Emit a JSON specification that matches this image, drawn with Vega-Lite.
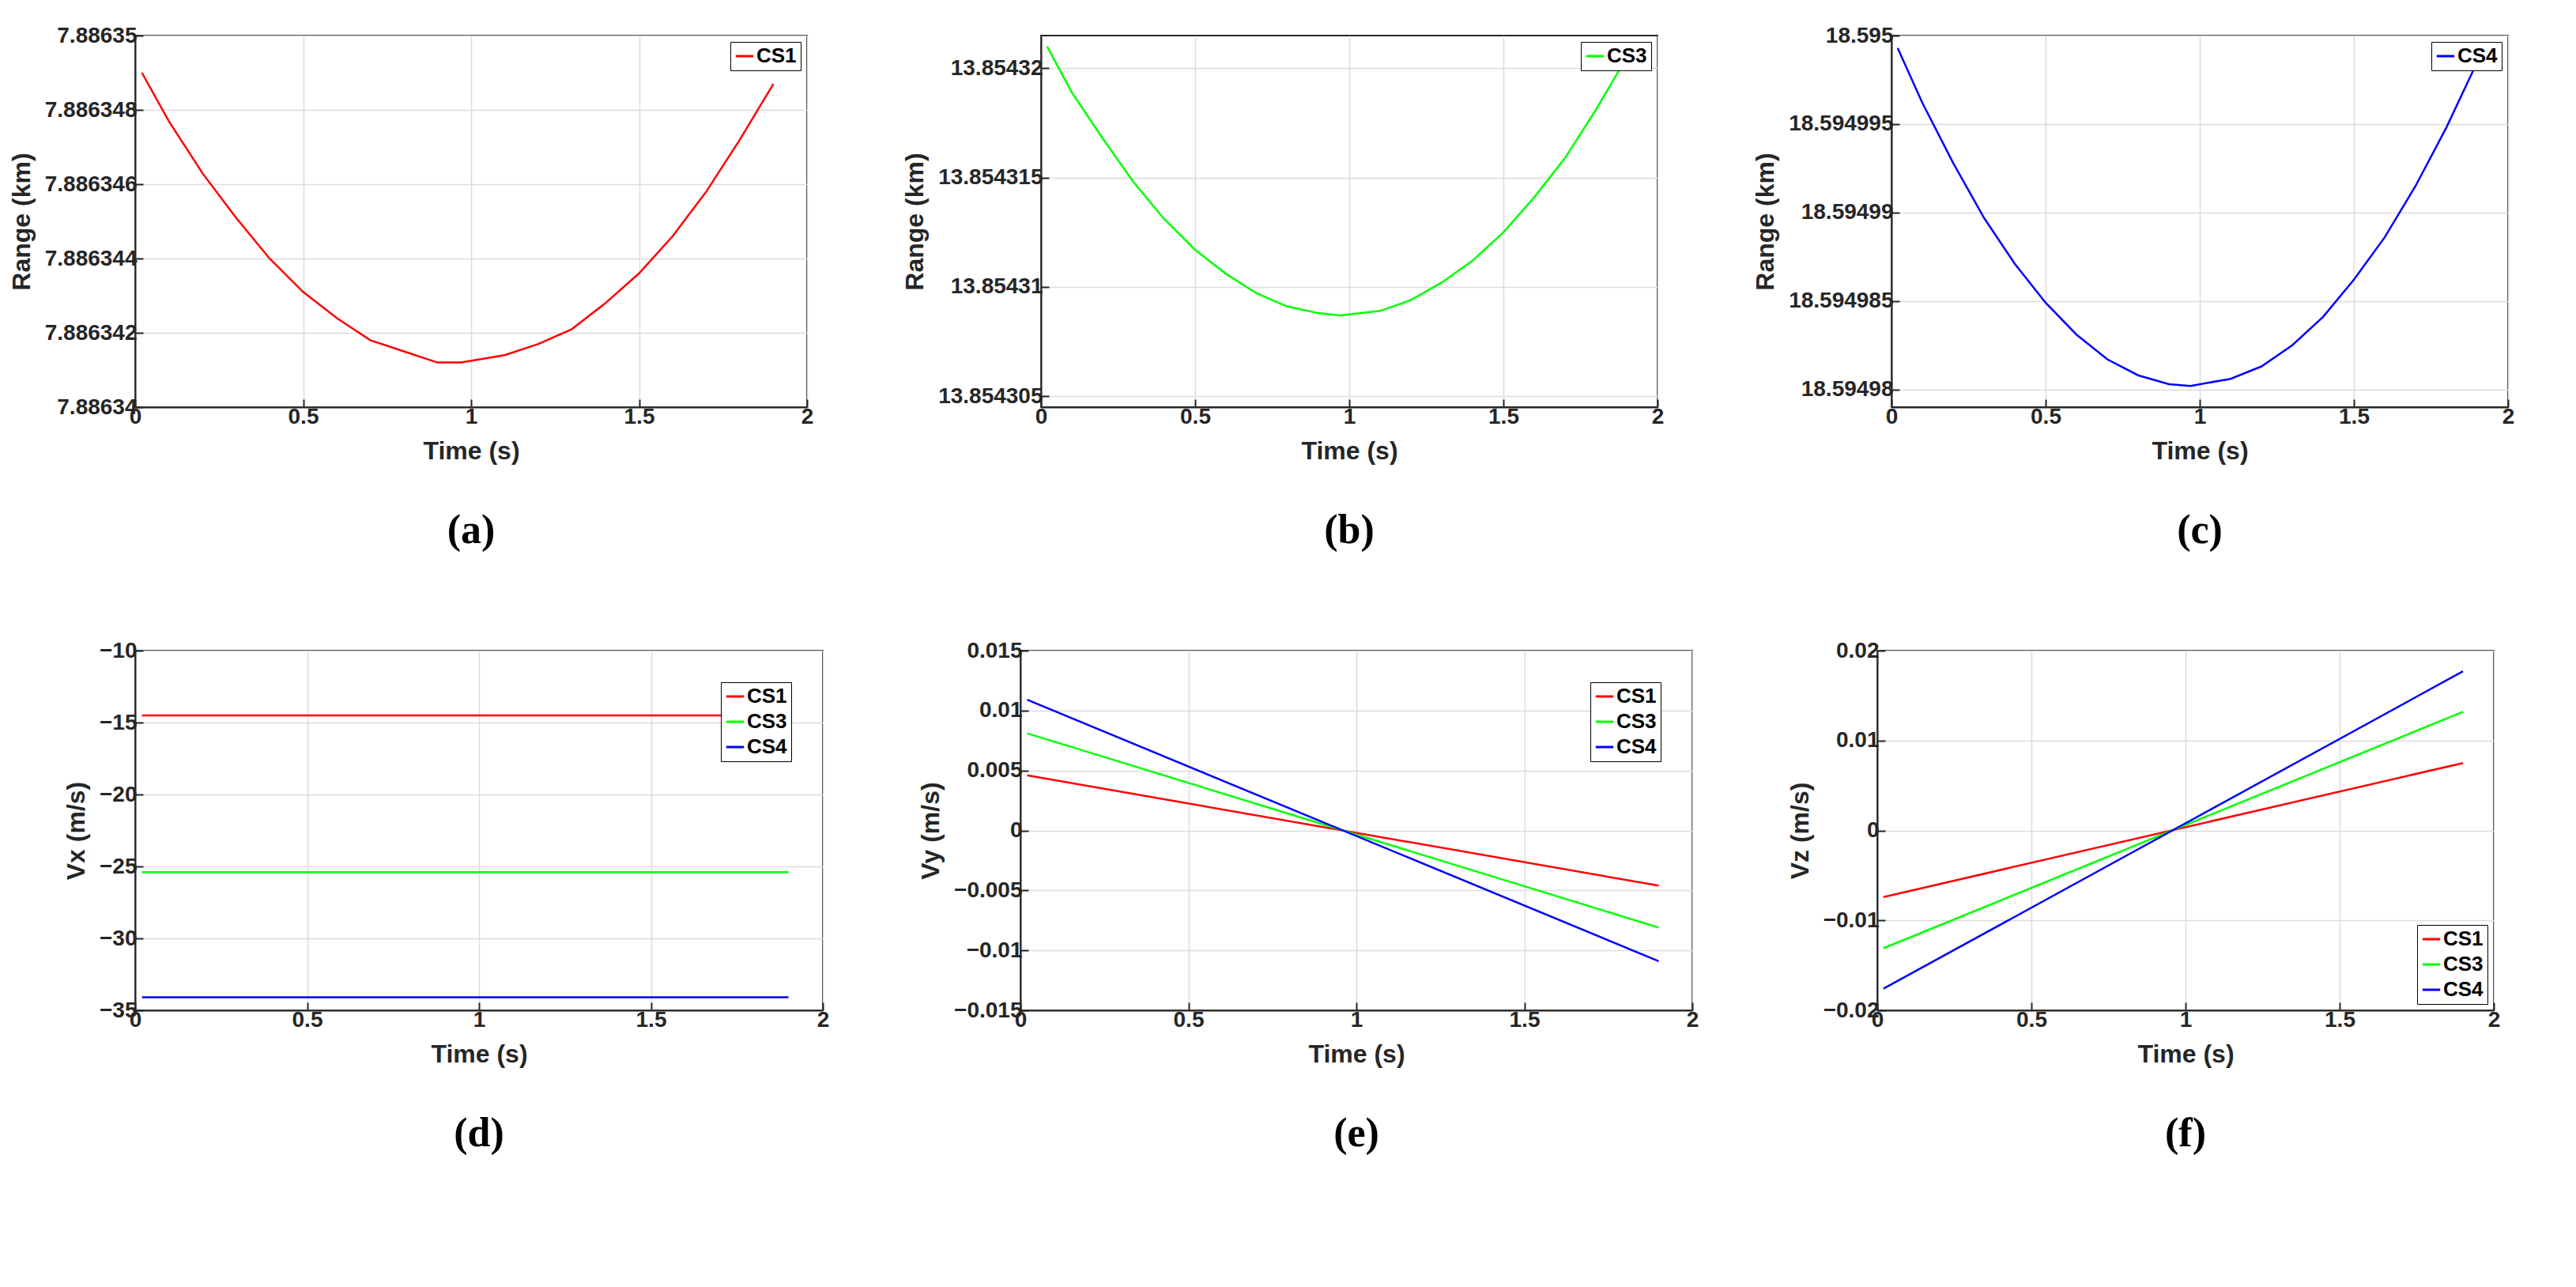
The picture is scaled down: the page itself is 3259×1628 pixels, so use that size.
{
  "$schema": "https://vega.github.io/schema/vega-lite/v6.json",
  "background": "white",
  "padding": {"left": 10, "top": 30, "right": 20, "bottom": 5},
  "datasets": {
    "rangeA": [
      {"t": 0.02, "r": 7.8863490, "s": "CS1"}, {"t": 0.1, "r": 7.8863477, "s": "CS1"}, {"t": 0.2, "r": 7.8863463, "s": "CS1"},
      {"t": 0.3, "r": 7.8863451, "s": "CS1"}, {"t": 0.4, "r": 7.8863440, "s": "CS1"}, {"t": 0.5, "r": 7.8863431, "s": "CS1"},
      {"t": 0.6, "r": 7.8863424, "s": "CS1"}, {"t": 0.7, "r": 7.8863418, "s": "CS1"}, {"t": 0.8, "r": 7.8863415, "s": "CS1"},
      {"t": 0.9, "r": 7.8863412, "s": "CS1"}, {"t": 0.97, "r": 7.8863412, "s": "CS1"}, {"t": 1.1, "r": 7.8863414, "s": "CS1"},
      {"t": 1.2, "r": 7.8863417, "s": "CS1"}, {"t": 1.3, "r": 7.8863421, "s": "CS1"}, {"t": 1.4, "r": 7.8863428, "s": "CS1"},
      {"t": 1.5, "r": 7.8863436, "s": "CS1"}, {"t": 1.6, "r": 7.8863446, "s": "CS1"}, {"t": 1.7, "r": 7.8863458, "s": "CS1"},
      {"t": 1.8, "r": 7.8863472, "s": "CS1"}, {"t": 1.9, "r": 7.8863487, "s": "CS1"}
    ],
    "rangeB": [
      {"t": 0.02, "r": 13.8543210, "s": "CS3"}, {"t": 0.1, "r": 13.8543189, "s": "CS3"}, {"t": 0.2, "r": 13.8543168, "s": "CS3"},
      {"t": 0.3, "r": 13.8543148, "s": "CS3"}, {"t": 0.4, "r": 13.8543131, "s": "CS3"}, {"t": 0.5, "r": 13.8543117, "s": "CS3"},
      {"t": 0.6, "r": 13.8543106, "s": "CS3"}, {"t": 0.7, "r": 13.8543097, "s": "CS3"}, {"t": 0.8, "r": 13.8543091, "s": "CS3"},
      {"t": 0.9, "r": 13.8543088, "s": "CS3"}, {"t": 0.97, "r": 13.8543087, "s": "CS3"}, {"t": 1.1, "r": 13.8543089, "s": "CS3"},
      {"t": 1.2, "r": 13.8543094, "s": "CS3"}, {"t": 1.3, "r": 13.8543102, "s": "CS3"}, {"t": 1.4, "r": 13.8543112, "s": "CS3"},
      {"t": 1.5, "r": 13.8543125, "s": "CS3"}, {"t": 1.6, "r": 13.8543141, "s": "CS3"}, {"t": 1.7, "r": 13.8543159, "s": "CS3"},
      {"t": 1.8, "r": 13.8543181, "s": "CS3"}, {"t": 1.9, "r": 13.8543205, "s": "CS3"}
    ],
    "rangeC": [
      {"t": 0.02, "r": 18.5949993, "s": "CS4"}, {"t": 0.1, "r": 18.5949962, "s": "CS4"}, {"t": 0.2, "r": 18.5949928, "s": "CS4"},
      {"t": 0.3, "r": 18.5949897, "s": "CS4"}, {"t": 0.4, "r": 18.5949871, "s": "CS4"}, {"t": 0.5, "r": 18.5949849, "s": "CS4"},
      {"t": 0.6, "r": 18.5949831, "s": "CS4"}, {"t": 0.7, "r": 18.5949817, "s": "CS4"}, {"t": 0.8, "r": 18.5949808, "s": "CS4"},
      {"t": 0.9, "r": 18.5949803, "s": "CS4"}, {"t": 0.97, "r": 18.5949802, "s": "CS4"}, {"t": 1.1, "r": 18.5949806, "s": "CS4"},
      {"t": 1.2, "r": 18.5949813, "s": "CS4"}, {"t": 1.3, "r": 18.5949825, "s": "CS4"}, {"t": 1.4, "r": 18.5949841, "s": "CS4"},
      {"t": 1.5, "r": 18.5949862, "s": "CS4"}, {"t": 1.6, "r": 18.5949886, "s": "CS4"}, {"t": 1.7, "r": 18.5949915, "s": "CS4"},
      {"t": 1.8, "r": 18.5949948, "s": "CS4"}, {"t": 1.9, "r": 18.5949985, "s": "CS4"}
    ],
    "vx": [
      {"t": 0.02, "v": -14.5, "s": "CS1"}, {"t": 1.9, "v": -14.5, "s": "CS1"},
      {"t": 0.02, "v": -25.4, "s": "CS3"}, {"t": 1.9, "v": -25.4, "s": "CS3"},
      {"t": 0.02, "v": -34.1, "s": "CS4"}, {"t": 1.9, "v": -34.1, "s": "CS4"}
    ],
    "vy": [
      {"t": 0.02, "v": 0.0046, "s": "CS1"}, {"t": 1.9, "v": -0.0046, "s": "CS1"},
      {"t": 0.02, "v": 0.0081, "s": "CS3"}, {"t": 1.9, "v": -0.0081, "s": "CS3"},
      {"t": 0.02, "v": 0.0109, "s": "CS4"}, {"t": 1.9, "v": -0.0109, "s": "CS4"}
    ],
    "vz": [
      {"t": 0.02, "v": -0.0074, "s": "CS1"}, {"t": 1.9, "v": 0.0075, "s": "CS1"},
      {"t": 0.02, "v": -0.0131, "s": "CS3"}, {"t": 1.9, "v": 0.0132, "s": "CS3"},
      {"t": 0.02, "v": -0.0176, "s": "CS4"}, {"t": 1.9, "v": 0.0177, "s": "CS4"}
    ]
  },
  "vconcat": [
    {
      "resolve": {"scale": {"color": "independent"}, "legend": {"color": "independent"}},
      "hconcat": [
        {
          "width": 850, "height": 470,
          "title": "(a)",
          "data": {"name": "rangeA"},
          "mark": {"type": "line", "strokeWidth": 2.5, "clip": true},
          "encoding": {
            "x": {"field": "t", "type": "quantitative", "title": "Time (s)", "scale": {"domain": [0, 2]}, "axis": {"values": [0, 0.5, 1, 1.5, 2], "format": "~g"}},
            "y": {"field": "r", "type": "quantitative", "title": "Range (km)", "scale": {"domain": [7.88634, 7.88635], "zero": false},
                  "axis": {"values": [7.88634, 7.886342, 7.886344, 7.886346, 7.886348, 7.88635], "format": ".7~r"}},
            "color": {"field": "s", "type": "nominal", "scale": {"domain": ["CS1"], "range": ["#ff0000"]}, "legend": {"orient": "top-right"}}
          }
        },
        {
          "width": 780, "height": 470,
          "title": "(b)",
          "data": {"name": "rangeB"},
          "mark": {"type": "line", "strokeWidth": 2.5, "clip": true},
          "encoding": {
            "x": {"field": "t", "type": "quantitative", "title": "Time (s)", "scale": {"domain": [0, 2]}, "axis": {"values": [0, 0.5, 1, 1.5, 2], "format": "~g"}},
            "y": {"field": "r", "type": "quantitative", "title": "Range (km)", "scale": {"domain": [13.8543045, 13.8543215], "zero": false},
                  "axis": {"values": [13.854305, 13.85431, 13.854315, 13.85432], "format": ".8~r"}},
            "color": {"field": "s", "type": "nominal", "scale": {"domain": ["CS3"], "range": ["#00ff00"]}, "legend": {"orient": "top-right"}}
          }
        },
        {
          "width": 780, "height": 470,
          "title": "(c)",
          "data": {"name": "rangeC"},
          "mark": {"type": "line", "strokeWidth": 2.5, "clip": true},
          "encoding": {
            "x": {"field": "t", "type": "quantitative", "title": "Time (s)", "scale": {"domain": [0, 2]}, "axis": {"values": [0, 0.5, 1, 1.5, 2], "format": "~g"}},
            "y": {"field": "r", "type": "quantitative", "title": "Range (km)", "scale": {"domain": [18.594979, 18.595], "zero": false},
                  "axis": {"values": [18.59498, 18.594985, 18.59499, 18.594995, 18.595], "format": ".8~r"}},
            "color": {"field": "s", "type": "nominal", "scale": {"domain": ["CS4"], "range": ["#0000ff"]}, "legend": {"orient": "top-right"}}
          }
        }
      ]
    },
    {
      "resolve": {"scale": {"color": "independent"}, "legend": {"color": "independent"}},
      "hconcat": [
        {
          "width": 870, "height": 455,
          "title": "(d)",
          "data": {"name": "vx"},
          "mark": {"type": "line", "strokeWidth": 2.5},
          "encoding": {
            "x": {"field": "t", "type": "quantitative", "title": "Time (s)", "scale": {"domain": [0, 2]}, "axis": {"values": [0, 0.5, 1, 1.5, 2], "format": "~g"}},
            "y": {"field": "v", "type": "quantitative", "title": "Vx (m/s)", "scale": {"domain": [-35, -10]}, "axis": {"values": [-35, -30, -25, -20, -15, -10], "format": "d"}},
            "color": {"field": "s", "type": "nominal", "scale": {"domain": ["CS1", "CS3", "CS4"], "range": ["#ff0000", "#00ff00", "#0000ff"]}, "legend": {"orient": "top-right", "offset": 40}}
          }
        },
        {
          "width": 850, "height": 455,
          "title": "(e)",
          "data": {"name": "vy"},
          "mark": {"type": "line", "strokeWidth": 2.5},
          "encoding": {
            "x": {"field": "t", "type": "quantitative", "title": "Time (s)", "scale": {"domain": [0, 2]}, "axis": {"values": [0, 0.5, 1, 1.5, 2], "format": "~g"}},
            "y": {"field": "v", "type": "quantitative", "title": "Vy (m/s)", "scale": {"domain": [-0.015, 0.015]},
                  "axis": {"values": [-0.015, -0.01, -0.005, 0, 0.005, 0.01, 0.015], "format": ".3~r"}},
            "color": {"field": "s", "type": "nominal", "scale": {"domain": ["CS1", "CS3", "CS4"], "range": ["#ff0000", "#00ff00", "#0000ff"]}, "legend": {"orient": "top-right", "offset": 40}}
          }
        },
        {
          "width": 780, "height": 455,
          "title": "(f)",
          "data": {"name": "vz"},
          "mark": {"type": "line", "strokeWidth": 2.5},
          "encoding": {
            "x": {"field": "t", "type": "quantitative", "title": "Time (s)", "scale": {"domain": [0, 2]}, "axis": {"values": [0, 0.5, 1, 1.5, 2], "format": "~g"}},
            "y": {"field": "v", "type": "quantitative", "title": "Vz (m/s)", "scale": {"domain": [-0.02, 0.02]},
                  "axis": {"values": [-0.02, -0.01, 0, 0.01, 0.02], "format": ".3~r"}},
            "color": {"field": "s", "type": "nominal", "scale": {"domain": ["CS1", "CS3", "CS4"], "range": ["#ff0000", "#00ff00", "#0000ff"]}, "legend": {"orient": "bottom-right"}}
          }
        }
      ]
    }
  ],
  "config": {
    "font": "Liberation Sans",
    "view": {"stroke": "#262626", "strokeWidth": 2},
    "concat": {"spacing": 110},
    "axis": {
      "labelFont": "Liberation Sans", "labelFontSize": 28, "labelFontWeight": "bold", "labelColor": "#262626",
      "titleFont": "Liberation Sans", "titleFontSize": 32, "titleFontWeight": "bold", "titleColor": "#262626",
      "grid": true, "gridColor": "#dcdcdc", "gridWidth": 1.5,
      "domainColor": "#262626", "domainWidth": 2, "tickColor": "#262626", "tickSize": -10, "tickWidth": 2,
      "labelPadding": 8, "labelFlush": false, "labelOverlap": false
    },
    "axisX": {"titlePadding": 14},
    "axisY": {"titlePadding": 12},
    "legend": {
      "title": null, "labelFont": "Liberation Sans", "labelFontSize": 26, "labelFontWeight": "bold", "labelColor": "#000",
      "symbolType": "stroke", "symbolStrokeWidth": 3, "symbolSize": 500, "strokeColor": "#000", "fillColor": "white",
      "padding": 5, "offset": 8, "rowPadding": 6, "labelOffset": 2
    },
    "title": {"orient": "bottom", "font": "Liberation Serif", "fontSize": 52, "fontWeight": "bold", "color": "#000", "offset": 60}
  }
}
